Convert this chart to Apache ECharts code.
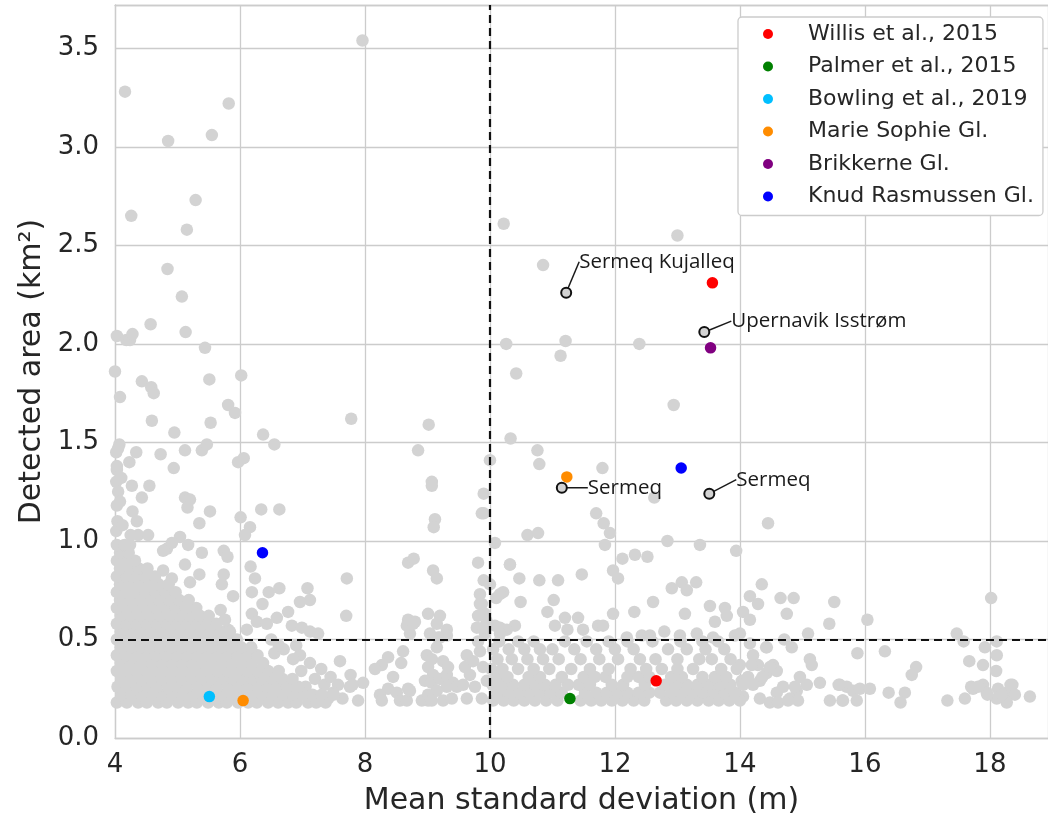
<!DOCTYPE html>
<html>
  <head>
    <meta charset="utf-8" />
    <title>Detected area vs mean standard deviation</title>
    <script type="text/javascript" src="https://cdn.jsdelivr.net/npm/echarts@6/dist/echarts.min.js"></script>
    <style>
      html, body { margin: 0; padding: 0; background: #fff; }
    </style>
  </head>
  <body>
    <div id="main" style="width:1048px;height:816px;"></div>
    <script type="text/javascript">
      // scattered grey points
      var graySparse = [
        [4.16,3.28],[5.82,3.22],[4.85,3.03],[5.55,3.06],[5.29,2.73],[4.26,2.65],[5.15,2.58],[4.84,2.38],
        [5.07,2.24],[4.57,2.10],[5.13,2.06],[4.03,2.04],[4.18,2.02],[4.24,2.02],[4.28,2.05],[5.44,1.98],
        [4.0,1.86],[4.43,1.81],[4.58,1.78],[4.62,1.75],[4.08,1.73],[5.51,1.82],[6.02,1.84],[7.96,3.54],
        [4.59,1.61],[5.53,1.60],[5.81,1.69],[5.92,1.65],[4.95,1.55],[6.37,1.54],[6.55,1.49],[4.07,1.49],
        [4.05,1.47],[4.34,1.45],[4.73,1.44],[5.12,1.46],[5.39,1.46],[5.47,1.49],[4.23,1.40],[4.94,1.37],
        [5.97,1.40],[6.06,1.42],[4.03,1.36],[4.27,1.28],[4.55,1.28],[4.43,1.22],[5.12,1.22],[5.2,1.21],
        [5.16,1.17],[5.52,1.15],[5.35,1.09],[6.01,1.12],[6.16,1.07],[6.34,1.16],[6.63,1.16],[4.28,1.15],
        [4.35,1.10],[4.37,1.03],[6.08,1.03],[4.53,1.03],[4.25,1.03],[4.24,0.98],[5.04,1.02],[4.91,0.99],
        [4.83,0.96],[5.17,0.98],[4.77,0.95],[5.39,0.94],[5.74,0.95],[5.80,0.92],[6.17,0.87],[6.24,0.81],
        [5.12,0.88],[4.77,0.85],[4.91,0.81],[5.35,0.83],[5.2,0.79],[5.74,0.83],[5.71,0.78],[5.89,0.72],
        [6.19,0.74],[6.46,0.74],[6.63,0.76],[7.08,0.76],[7.12,0.70],[6.96,0.69],[6.77,0.64],[6.36,0.68],
        [5.69,0.65],[5.76,0.60],[5.81,0.55],[6.19,0.63],[6.59,0.61],[6.83,0.57],[6.99,0.56],[7.12,0.54],
        [7.25,0.53],[6.11,0.55],[6.27,0.59],[6.43,0.58],[5.47,0.56],
        [4.02,1.45],[4.03,1.38],[4.02,1.30],[4.05,1.25],[4.03,1.18],[4.04,1.10],[4.02,1.05],[4.10,1.32],
        [4.08,1.20],[4.12,1.08],
        [7.78,1.62],[8.85,1.46],[9.02,1.59],[9.07,1.30],[9.07,1.28],[9.12,1.11],[9.10,1.07],[9.87,1.14],
        [10.08,0.99],[7.71,0.81],[7.70,0.62],[8.69,0.89],[8.78,0.91],[9.09,0.85],[9.15,0.81],[9.81,0.89],
        [9.9,0.80],[9.84,0.73],[9.87,0.68],[9.92,0.63],[9.79,0.56],[8.69,0.60],[8.8,0.59],[9.01,0.63],
        [9.2,0.62],[9.15,0.58],[9.31,0.55],[8.72,0.53],[8.67,0.57],[8.77,0.58],
        [6.96,0.42],[7.6,0.39],[7.77,0.32],[7.76,0.26],[7.64,0.20],[7.97,0.28],[7.89,0.19],[7.57,0.27],
        [7.49,0.23],[7.41,0.20],[7.28,0.19],[8.37,0.41],[8.27,0.37],[8.16,0.35],[8.58,0.38],[8.61,0.44],
        [8.45,0.31],[8.37,0.25],[8.24,0.22],[8.27,0.19],[8.51,0.23],[8.56,0.19],[8.69,0.25],[8.67,0.19],
        [7.8,0.27],[8.72,0.24],[8.91,0.19],[9.01,0.19],
        [8.99,0.42],[9.07,0.40],[9.01,0.36],[9.09,0.32],[8.96,0.29],[9.07,0.28],[9.2,0.30],[9.31,0.32],
        [9.25,0.39],[9.33,0.36],[9.41,0.28],[9.47,0.26],[9.31,0.26],[9.15,0.24],[9.01,0.22],[9.07,0.19],
        [9.25,0.19],[9.39,0.20],[9.2,0.51],[9.31,0.52],[9.04,0.53],[9.15,0.46],[9.17,0.51],
        [9.63,0.42],[9.6,0.36],[9.73,0.39],[9.68,0.32],[9.84,0.44],[9.89,0.36],[9.76,0.26],[9.63,0.20],
        [9.87,0.20],[9.95,0.29],[9.57,0.27],[9.81,0.49],[9.92,0.53],[9.95,0.59],[9.84,0.68],[9.81,0.62],
        [9.89,0.56],[10.08,0.57],[10.16,0.56],[10.1,0.71],[10.21,0.74],[10.32,0.88],[10.0,0.78],
        [10.22,2.61],[13.0,2.55],[10.85,2.40],[10.26,2.00],[11.21,2.015],[11.13,1.94],[12.39,2.00],[10.42,1.85],
        [12.94,1.69],[10.33,1.52],[10.76,1.46],[10.79,1.39],[10.0,1.41],[11.8,1.37],[9.9,1.24],[9.9,1.14],
        [12.63,1.22],[11.7,1.14],[11.82,1.09],[11.92,1.04],[11.84,0.98],[14.45,1.09],[10.6,1.03],[10.77,1.04],
        [12.84,1.0],[13.36,0.98],[13.94,0.95],[12.12,0.91],[12.32,0.93],[12.52,0.92],[10.32,0.88],[11.97,0.85],
        [12.05,0.81],[11.47,0.83],[10.47,0.81],[10.79,0.80],[11.09,0.80],[12.91,0.76],[13.07,0.79],[13.15,0.75],
        [13.3,0.79],[10.16,0.73],[11.02,0.70],[10.49,0.69],[12.61,0.69],[12.31,0.64],[13.12,0.63],[13.52,0.67],
        [13.76,0.66],[13.79,0.62],[13.6,0.59],[11.97,0.63],[10.92,0.64],[11.41,0.61],[11.2,0.61],[11.04,0.57],
        [11.24,0.55],[11.73,0.57],[11.81,0.57],[11.49,0.55],[12.79,0.54],[10.4,0.57],[10.27,0.55],[10.16,0.53],
        [12.19,0.51],[12.43,0.52],[12.56,0.52],[13.04,0.52],[13.31,0.53],[13.57,0.51],[13.92,0.52],[14.0,0.53],
        [14.35,0.78],[14.16,0.72],[14.29,0.68],[14.05,0.64],[14.16,0.60],[14.65,0.71],[14.86,0.71],[14.75,0.63],
        [15.51,0.69],[15.43,0.58],[16.04,0.60],[15.09,0.53],[14.71,0.50],[14.16,0.48],[14.21,0.42],[14.29,0.37],
        [14.43,0.46],[14.83,0.46],[15.12,0.40],[15.15,0.37],[15.88,0.43],[16.32,0.44],[14.53,0.37],[14.43,0.33],
        [14.32,0.29],[14.21,0.27],[14.96,0.31],[15.07,0.27],[14.91,0.24],[14.69,0.26],[14.59,0.23],[14.8,0.20],
        [14.93,0.19],[15.28,0.28],[15.6,0.27],[15.71,0.26],[15.81,0.24],[15.87,0.19],[15.65,0.19],[15.44,0.19],
        [15.92,0.25],[16.08,0.25],[16.38,0.23],[16.64,0.23],[16.57,0.18],[16.75,0.32],[16.82,0.36],[17.32,0.19],
        [17.6,0.20],[17.47,0.53],[17.58,0.49],[17.67,0.39],[17.92,0.46],[17.89,0.37],[18.11,0.49],[18.11,0.42],
        [18.1,0.34],[18.02,0.71],[17.73,0.25],[17.89,0.27],[17.95,0.23],[18.13,0.25],[18.27,0.23],[18.36,0.27],
        [18.4,0.22],[18.27,0.18],[18.11,0.20],[18.64,0.21],[14.0,0.37],[14.03,0.29],[14.05,0.21],[14.32,0.20],
        [14.48,0.18],[14.61,0.18],[17.7,0.26],[17.81,0.26],[18.19,0.22],[18.33,0.27],[17.96,0.22],[14.13,0.31],
        [14.19,0.37],[14.42,0.46],[14.59,0.34],[14.48,0.36],[14.36,0.31],[14.77,0.19],[14.88,0.26],[15.58,0.27],
        [15.64,0.19],
        [7.05,0.26],[7.2,0.30],[7.35,0.27],[7.5,0.22],[6.98,0.34],[7.12,0.38],[6.85,0.40],[6.7,0.45],
        [6.55,0.43],[6.9,0.47],[7.3,0.35],[7.45,0.31],[6.5,0.50],[6.62,0.47]
      ];

      // packed cloud at small deviation: [area, x positions along that row]
      var denseLeft = [
        [0.18, [4.03,4.19,4.37,4.51,4.69,4.83,5.01,5.17,5.31,5.49,5.66,5.79,5.97,6.13,6.27,6.45,6.61,6.77,6.9,7.09,7.22,7.37]],
        [0.22, [4.1,4.27,4.43,4.6,4.76,4.92,5.08,5.25,5.41,5.57,5.72,5.88,6.05,6.21,6.36,6.52,6.69,6.85,7.0,7.16,7.31]],
        [0.26, [4.04,4.18,4.35,4.52,4.67,4.85,5.0,5.15,5.33,5.48,5.63,5.81,5.95,6.12,6.29,6.44,6.6,6.75,6.93]],
        [0.30, [4.1,4.26,4.42,4.58,4.75,4.9,5.07,5.24,5.4,5.55,5.72,5.88,6.03,6.2,6.35,6.52,6.68,6.84]],
        [0.34, [4.03,4.19,4.34,4.5,4.67,4.83,4.99,5.15,5.31,5.47,5.64,5.8,5.95,6.12,6.28,6.45,6.62]],
        [0.38, [4.09,4.25,4.41,4.58,4.74,4.9,5.06,5.22,5.39,5.55,5.71,5.87,6.03,6.19,6.37]],
        [0.42, [4.03,4.18,4.35,4.51,4.66,4.82,4.98,5.14,5.31,5.47,5.63,5.79,5.96,6.11,6.28]],
        [0.46, [4.09,4.26,4.42,4.57,4.73,4.9,5.06,5.22,5.38,5.54,5.7,5.86,6.02,6.18]],
        [0.50, [4.03,4.2,4.35,4.51,4.68,4.84,4.99,5.16,5.32,5.47,5.63,5.79,5.95]],
        [0.54, [4.09,4.25,4.41,4.57,4.72,4.88,5.05,5.21,5.37,5.53,5.69,5.84]],
        [0.58, [4.03,4.19,4.34,4.5,4.66,4.82,4.98,5.14,5.3,5.46,5.62]],
        [0.62, [4.09,4.24,4.4,4.56,4.72,4.88,5.04,5.2,5.36,5.5]],
        [0.66, [4.03,4.18,4.34,4.5,4.66,4.82,4.97,5.13,5.3]],
        [0.70, [4.08,4.24,4.4,4.56,4.71,4.87,5.03,5.18]],
        [0.74, [4.03,4.18,4.34,4.49,4.65,4.81,4.97]],
        [0.78, [4.08,4.23,4.39,4.55,4.7,4.86]],
        [0.82, [4.03,4.18,4.33,4.49,4.64]],
        [0.86, [4.08,4.23,4.38,4.52]],
        [0.90, [4.03,4.17,4.32]],
        [0.94, [4.08,4.22]],
        [0.98, [4.03,4.15]]
      ];

      // band of small areas right of the 10 m line
      var denseRight = [
        [0.19, [10.05,10.22,10.38,10.55,10.72,10.9,11.08,11.45,11.62,11.78,11.95,12.12,12.3,12.47,12.82,12.98,13.15,13.32,13.5,13.66,13.83,14.0]],
        [0.23, [10.12,10.3,10.47,10.63,10.8,10.97,11.15,11.52,11.7,11.87,12.04,12.2,12.38,12.55,12.72,12.9,13.07,13.24,13.41,13.58,13.75,13.92]],
        [0.27, [10.04,10.2,10.37,10.55,10.73,10.88,11.05,11.25,11.42,11.6,11.95,12.13,12.48,12.8,12.97,13.15,13.32,13.5,13.68,13.85,14.05]],
        [0.31, [10.1,10.28,10.62,10.8,11.15,11.5,11.68,11.85,12.2,12.38,12.55,12.9,13.07,13.4,13.6,13.78]],
        [0.35, [10.02,10.2,10.45,10.7,10.95,11.3,11.6,11.9,12.25,12.5,12.75,13.0,13.25,13.7,13.95]],
        [0.40, [10.12,10.35,10.6,10.85,11.1,11.45,11.75,12.05,12.4,12.65,13.0,13.35,13.55,13.85]],
        [0.45, [10.05,10.3,10.55,10.8,11.0,11.35,11.7,12.0,12.3,12.85,13.15,13.45,13.75]],
        [0.49, [10.15,10.45,10.7,11.2,11.55,11.9,12.2,12.6,13.05,13.4,13.65]]
      ];

      var willis = [[13.56,2.31],[12.66,0.29]];
      var palmer = [[11.28,0.20]];
      var bowling = [[5.51,0.21]];
      var marieSophie = [[6.05,0.19],[11.23,1.325]];
      var brikkerne = [[13.53,1.98]];
      var knudRasmussen = [[6.36,0.94],[13.06,1.37]];

      var namedX = [11.22, 13.43, 11.15, 13.51];
      var namedY = [2.26, 2.06, 1.27, 1.24];
      var namedLabels = ['Sermeq Kujalleq', 'Upernavik Isstrøm', 'Sermeq', 'Sermeq'];

      var xTicks = [4, 6, 8, 10, 12, 14, 16, 18];
      var yTicks = [0.0, 0.5, 1.0, 1.5, 2.0, 2.5, 3.0, 3.5];
      var thresholdX = 10;
      var thresholdY = 0.5;

      var gray = graySparse.slice();
      denseLeft.concat(denseRight).forEach(function (row) {
        row[1].forEach(function (x) { gray.push([x, row[0]]); });
      });

      var named = namedX.map(function (x, i) {
        return { value: [x, namedY[i]], name: namedLabels[i] };
      });
      // where each label sits, relative to its point
      var labelShift = [[2, -31], [16, -11], [15, 0], [16, -14]];

      var myChart = echarts.init(document.getElementById('main'), null, { renderer: 'canvas' });
      var textColor = '#262626';
      var font = 'DejaVu Sans';
      var spine = '#cccccc';

      function dots(name, data, color) {
        return {
          name: name,
          type: 'scatter',
          data: data,
          symbolSize: 11.5,
          itemStyle: { color: color, opacity: 1 },
          z: 4
        };
      }

      var option = {
        animation: false,
        backgroundColor: '#ffffff',
        grid: { left: 115, right: 0, top: 5, bottom: 78, outerBoundsMode: 'none' },
        xAxis: [
          {
            type: 'value',
            min: 4, max: 18.93, interval: 2,
            name: 'Mean standard deviation (m)',
            nameLocation: 'middle',
            nameGap: 48,
            nameTextStyle: { fontFamily: font, fontSize: 30, color: textColor },
            axisLine: { show: true, onZero: false, lineStyle: { color: spine, width: 1.3 } },
            axisTick: { show: false },
            axisLabel: {
              fontFamily: font, fontSize: 26, color: textColor, margin: 14,
              formatter: function (v) { return xTicks.indexOf(v) >= 0 ? String(v) : ''; }
            },
            splitLine: { lineStyle: { color: spine, width: 1.3 } }
          },
          {
            // only draws the top spine
            type: 'value',
            position: 'top',
            min: 4, max: 18.93,
            axisLine: { show: true, onZero: false, lineStyle: { color: spine, width: 1.3 } },
            axisTick: { show: false },
            axisLabel: { show: false },
            splitLine: { show: false }
          }
        ],
        yAxis: {
          type: 'value',
          min: 0, max: 3.72, interval: 0.5,
          name: 'Detected area (km²)',
          nameLocation: 'middle',
          nameGap: 66,
          nameRotate: 90,
          nameTextStyle: { fontFamily: font, fontSize: 30, color: textColor },
          axisLine: { show: true, onZero: false, lineStyle: { color: spine, width: 1.3 } },
          axisTick: { show: false },
          axisLabel: {
            fontFamily: font, fontSize: 26, color: textColor, margin: 16,
            formatter: function (v) {
              return yTicks.indexOf(v) >= 0 ? v.toFixed(1) : '';
            }
          },
          splitLine: { lineStyle: { color: spine, width: 1.3 } }
        },
        legend: {
          left: 738, top: 17,
          orient: 'vertical',
          data: ['Willis et al., 2015', 'Palmer et al., 2015', 'Bowling et al., 2019',
                 'Marie Sophie Gl.', 'Brikkerne Gl.', 'Knud Rasmussen Gl.'],
          icon: 'circle',
          itemWidth: 10, itemHeight: 10,
          itemGap: 10.5,
          padding: [6, 9, 8, 25],
          backgroundColor: '#ffffff',
          borderColor: spine,
          borderWidth: 1.3,
          borderRadius: 4,
          textStyle: {
            fontFamily: font, fontSize: 22, color: textColor,
            lineHeight: 22, padding: [0, 0, 0, 30]
          }
        },
        series: [
          {
            name: 'all',
            type: 'scatter',
            data: gray,
            symbolSize: 12.5,
            itemStyle: { color: '#d3d3d3', opacity: 1 },
            silent: true,
            z: 2,
            markLine: {
              silent: true,
              symbol: 'none',
              label: { show: false },
              lineStyle: { color: '#111111', type: [8, 5], width: 2.2 },
              data: [{ xAxis: thresholdX }, { yAxis: thresholdY }],
              z: 3
            }
          },
          dots('Willis et al., 2015', willis, '#ff0000'),
          dots('Palmer et al., 2015', palmer, '#008000'),
          dots('Bowling et al., 2019', bowling, '#00bfff'),
          dots('Marie Sophie Gl.', marieSophie, '#ff8c00'),
          dots('Brikkerne Gl.', brikkerne, '#800080'),
          dots('Knud Rasmussen Gl.', knudRasmussen, '#0000ff'),
          {
            name: 'named',
            type: 'scatter',
            data: named,
            symbolSize: 10,
            itemStyle: { color: '#d3d3d3', borderColor: '#111111', borderWidth: 2, opacity: 1 },
            z: 5,
            label: {
              show: true,
              position: 'right',
              distance: 5,
              formatter: '{b}',
              fontFamily: 'Open Sans',
              fontSize: 20.5,
              color: '#1a1a1a'
            },
            labelLine: { show: true, lineStyle: { color: '#1a1a1a', width: 1.5 } },
            labelLayout: function (params) {
              var s = labelShift[params.dataIndex];
              return { dx: s[0], dy: s[1] };
            }
          }
        ]
      };
      myChart.setOption(option);
    </script>
  </body>
</html>
